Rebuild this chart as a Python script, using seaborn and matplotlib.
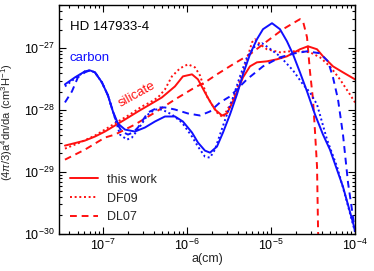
import numpy as np
import pandas as pd
import matplotlib
matplotlib.use("Agg")
import matplotlib.pyplot as plt
from matplotlib.lines import Line2D
import seaborn as sns

# values, as log10(a / cm) and log10((4pi/3) a^4 dn/da)
si_this_loga = [-7.452, -7.214, -7.095, -6.976, -6.857, -6.738, -6.583, -6.440, -6.298, -6.143,
                -6.048, -5.940, -5.869, -5.786, -5.726, -5.667, -5.583, -5.524, -5.452, -5.333,
                -5.250, -5.167, -5.048, -4.929, -4.810, -4.655, -4.560, -4.452, -4.381, -4.262,
                -4.143, -4.000]
si_this_logy = [-28.572, -28.491, -28.426, -28.345, -28.248, -28.151, -28.021, -27.908, -27.794, -27.616,
                -27.454, -27.421, -27.502, -27.713, -27.859, -27.989, -28.086, -28.053, -27.859, -27.470,
                -27.292, -27.227, -27.211, -27.178, -27.130, -27.016, -26.968, -27.016, -27.130, -27.292,
                -27.389, -27.502]

si_df09_loga = [-7.452, -7.274, -7.095, -6.976, -6.821, -6.679, -6.536, -6.440, -6.345, -6.262,
                -6.179, -6.083, -5.988, -5.905, -5.845, -5.762, -5.643, -5.571, -5.452, -5.310,
                -5.226, -5.190, -5.131, -5.048, -4.893, -4.774, -4.655, -4.536, -4.417, -4.298,
                -4.179, -4.060, -4.000]
si_df09_logy = [-28.621, -28.523, -28.410, -28.313, -28.183, -28.070, -27.940, -27.875, -27.794, -27.665,
                -27.454, -27.324, -27.259, -27.308, -27.438, -27.778, -28.037, -28.118, -27.827, -27.292,
                -26.903, -26.854, -26.935, -27.016, -27.065, -27.049, -27.049, -27.065, -27.146, -27.292,
                -27.502, -27.746, -27.875]

si_dl07_loga = [-7.452, -7.214, -6.976, -6.857, -6.619, -6.381, -6.143, -5.905, -5.786, -5.643,
                -5.452, -5.250, -5.048, -4.857, -4.655, -4.619, -4.571, -4.536, -4.500, -4.476,
                -4.452, -4.435]
si_dl07_logy = [-28.799, -28.637, -28.442, -28.394, -28.232, -28.037, -27.827, -27.632, -27.551, -27.421,
                -27.259, -27.097, -26.887, -26.692, -26.530, -26.562, -26.822, -27.373, -27.827, -28.345,
                -28.912, -30.300]

c_this_loga = [-7.452, -7.333, -7.214, -7.155, -7.095, -7.012, -6.940, -6.881, -6.821, -6.738,
               -6.619, -6.500, -6.381, -6.262, -6.143, -6.048, -5.940, -5.869, -5.786, -5.726,
               -5.643, -5.571, -5.488, -5.405, -5.333, -5.250, -5.167, -5.095, -4.988, -4.893,
               -4.810, -4.738, -4.655, -4.571, -4.476, -4.381, -4.298, -4.143, -4.000]
c_this_logy = [-27.583, -27.470, -27.373, -27.357, -27.389, -27.551, -27.762, -28.021, -28.216, -28.313,
               -28.345, -28.280, -28.183, -28.102, -28.102, -28.183, -28.361, -28.523, -28.653, -28.686,
               -28.588, -28.361, -28.070, -27.746, -27.421, -27.097, -26.854, -26.692, -26.595, -26.692,
               -26.887, -27.097, -27.389, -27.697, -28.070, -28.394, -28.637, -29.237, -29.934]

c_df09_loga = [-7.452, -7.333, -7.214, -7.155, -7.095, -7.012, -6.940, -6.881, -6.833, -6.798,
               -6.714, -6.655, -6.583, -6.464, -6.381, -6.298, -6.179, -6.060, -5.940, -5.869,
               -5.786, -5.726, -5.667, -5.607, -5.524, -5.452, -5.369, -5.286, -5.190, -5.107,
               -5.036, -4.893, -4.738, -4.619, -4.536, -4.452, -4.333, -4.214, -4.119, -4.000]
c_df09_logy = [-27.616, -27.486, -27.373, -27.357, -27.389, -27.551, -27.762, -28.021, -28.232, -28.394,
               -28.475, -28.442, -28.313, -28.070, -27.989, -27.989, -28.070, -28.199, -28.426, -28.588,
               -28.750, -28.767, -28.637, -28.394, -28.070, -27.794, -27.454, -27.146, -26.968, -26.919,
               -26.984, -27.130, -27.357, -27.583, -27.713, -27.908, -28.475, -28.912, -29.366, -29.966]

c_dl07_loga = [-7.452, -7.369, -7.298, -7.214, -7.155, -7.095, -7.012, -6.940, -6.881, -6.833,
               -6.774, -6.702, -6.643, -6.583, -6.464, -6.345, -6.262, -6.143, -5.988, -5.845,
               -5.726, -5.607, -5.488, -5.286, -5.095, -4.893, -4.714, -4.571, -4.417, -4.321,
               -4.262, -4.202, -4.143, -4.083, -4.036, -4.000]
c_dl07_logy = [-27.875, -27.697, -27.470, -27.389, -27.357, -27.389, -27.551, -27.762, -28.021, -28.216,
               -28.345, -28.394, -28.361, -28.280, -28.037, -27.956, -27.956, -27.989, -28.053, -28.086,
               -28.021, -27.875, -27.778, -27.502, -27.292, -27.146, -27.081, -27.049, -27.081, -27.211,
               -27.470, -27.827, -28.394, -29.172, -29.609, -29.966]

models = ["this work", "DF09", "DL07"]
model_dashes = {"this work": "", "DF09": (1, 1.4), "DL07": (3.5, 2.5)}
colors = {"silicate": "#ff1010", "carbon": "#1010ff"}
x_ticks = [1e-7, 1e-6, 1e-5, 1e-4]
y_ticks = [1e-30, 1e-29, 1e-28, 1e-27]


def build_frame():
    series = [
        ("silicate", "this work", si_this_loga, si_this_logy),
        ("silicate", "DF09", si_df09_loga, si_df09_logy),
        ("silicate", "DL07", si_dl07_loga, si_dl07_logy),
        ("carbon", "this work", c_this_loga, c_this_logy),
        ("carbon", "DF09", c_df09_loga, c_df09_logy),
        ("carbon", "DL07", c_dl07_loga, c_dl07_logy),
    ]
    parts = []
    for material, model, loga, logy in series:
        parts.append(pd.DataFrame({
            "a": np.power(10.0, loga),
            "y": np.power(10.0, logy),
            "material": material,
            "model": model,
            "curve": f"{material} {model}",
        }))
    return pd.concat(parts, ignore_index=True)


def main():
    sns.set_style("ticks")
    plt.rcParams["font.family"] = ["Liberation Sans", "DejaVu Sans"]
    plt.rcParams["mathtext.fontset"] = "custom"
    plt.rcParams["mathtext.rm"] = "Liberation Sans"
    plt.rcParams["mathtext.it"] = "Liberation Sans:italic"
    plt.rcParams["axes.linewidth"] = 1.0

    df = build_frame()

    fig = plt.figure(figsize=(3.74, 2.71), dpi=100)
    ax = fig.add_axes([59 / 374, 37 / 271, 296 / 374, 229 / 271])

    sns.lineplot(
        data=df, x="a", y="y", hue="material", style="model", units="curve",
        palette=colors, dashes=model_dashes, estimator=None, sort=False,
        linewidth=1.4, legend=False, ax=ax,
    )

    ax.set_xscale("log")
    ax.set_yscale("log")
    ax.set_xlim(3e-8, 1e-4)
    ax.set_ylim(1e-30, 5e-27)
    ax.set_xticks(x_ticks)
    ax.set_yticks(y_ticks)

    ax.tick_params(which="both", direction="in", top=True, right=True,
                   labelsize=9, colors="black", width=0.8)
    ax.tick_params(which="major", length=5, pad=3)
    ax.tick_params(which="minor", length=2.5)
    for s in ax.spines.values():
        s.set_color("black")

    ax.set_xlabel("a(cm)", fontsize=9, labelpad=0)
    ax.set_ylabel(r"(4$\pi$/3)a$^4$dn/da (cm$^3$H$^{-1}$)", fontsize=8)
    ax.yaxis.set_label_coords(-0.149, 0.49)

    ax.text(0.037, 0.905, "HD 147933-4", transform=ax.transAxes, fontsize=9.5,
            ha="left", va="center", color="black")
    ax.text(0.037, 0.77, "carbon", transform=ax.transAxes, fontsize=9.5,
            ha="left", va="center", color=colors["carbon"])
    ax.text(0.262, 0.607, "silicate", transform=ax.transAxes, fontsize=9.5,
            ha="center", va="center", rotation=29, color=colors["silicate"])

    handles = [
        Line2D([], [], color=colors["silicate"], lw=1.4, linestyle="-"),
        Line2D([], [], color=colors["silicate"], lw=1.4, dashes=model_dashes["DF09"]),
        Line2D([], [], color=colors["silicate"], lw=1.4, dashes=model_dashes["DL07"]),
    ]
    ax.legend(handles, models, loc="lower left", frameon=False, fontsize=9,
              handlelength=2.3, handletextpad=0.7, labelspacing=0.55,
              borderaxespad=0.5, borderpad=0.35)

    fig.savefig("out.png", dpi=100)


if __name__ == "__main__":
    main()
